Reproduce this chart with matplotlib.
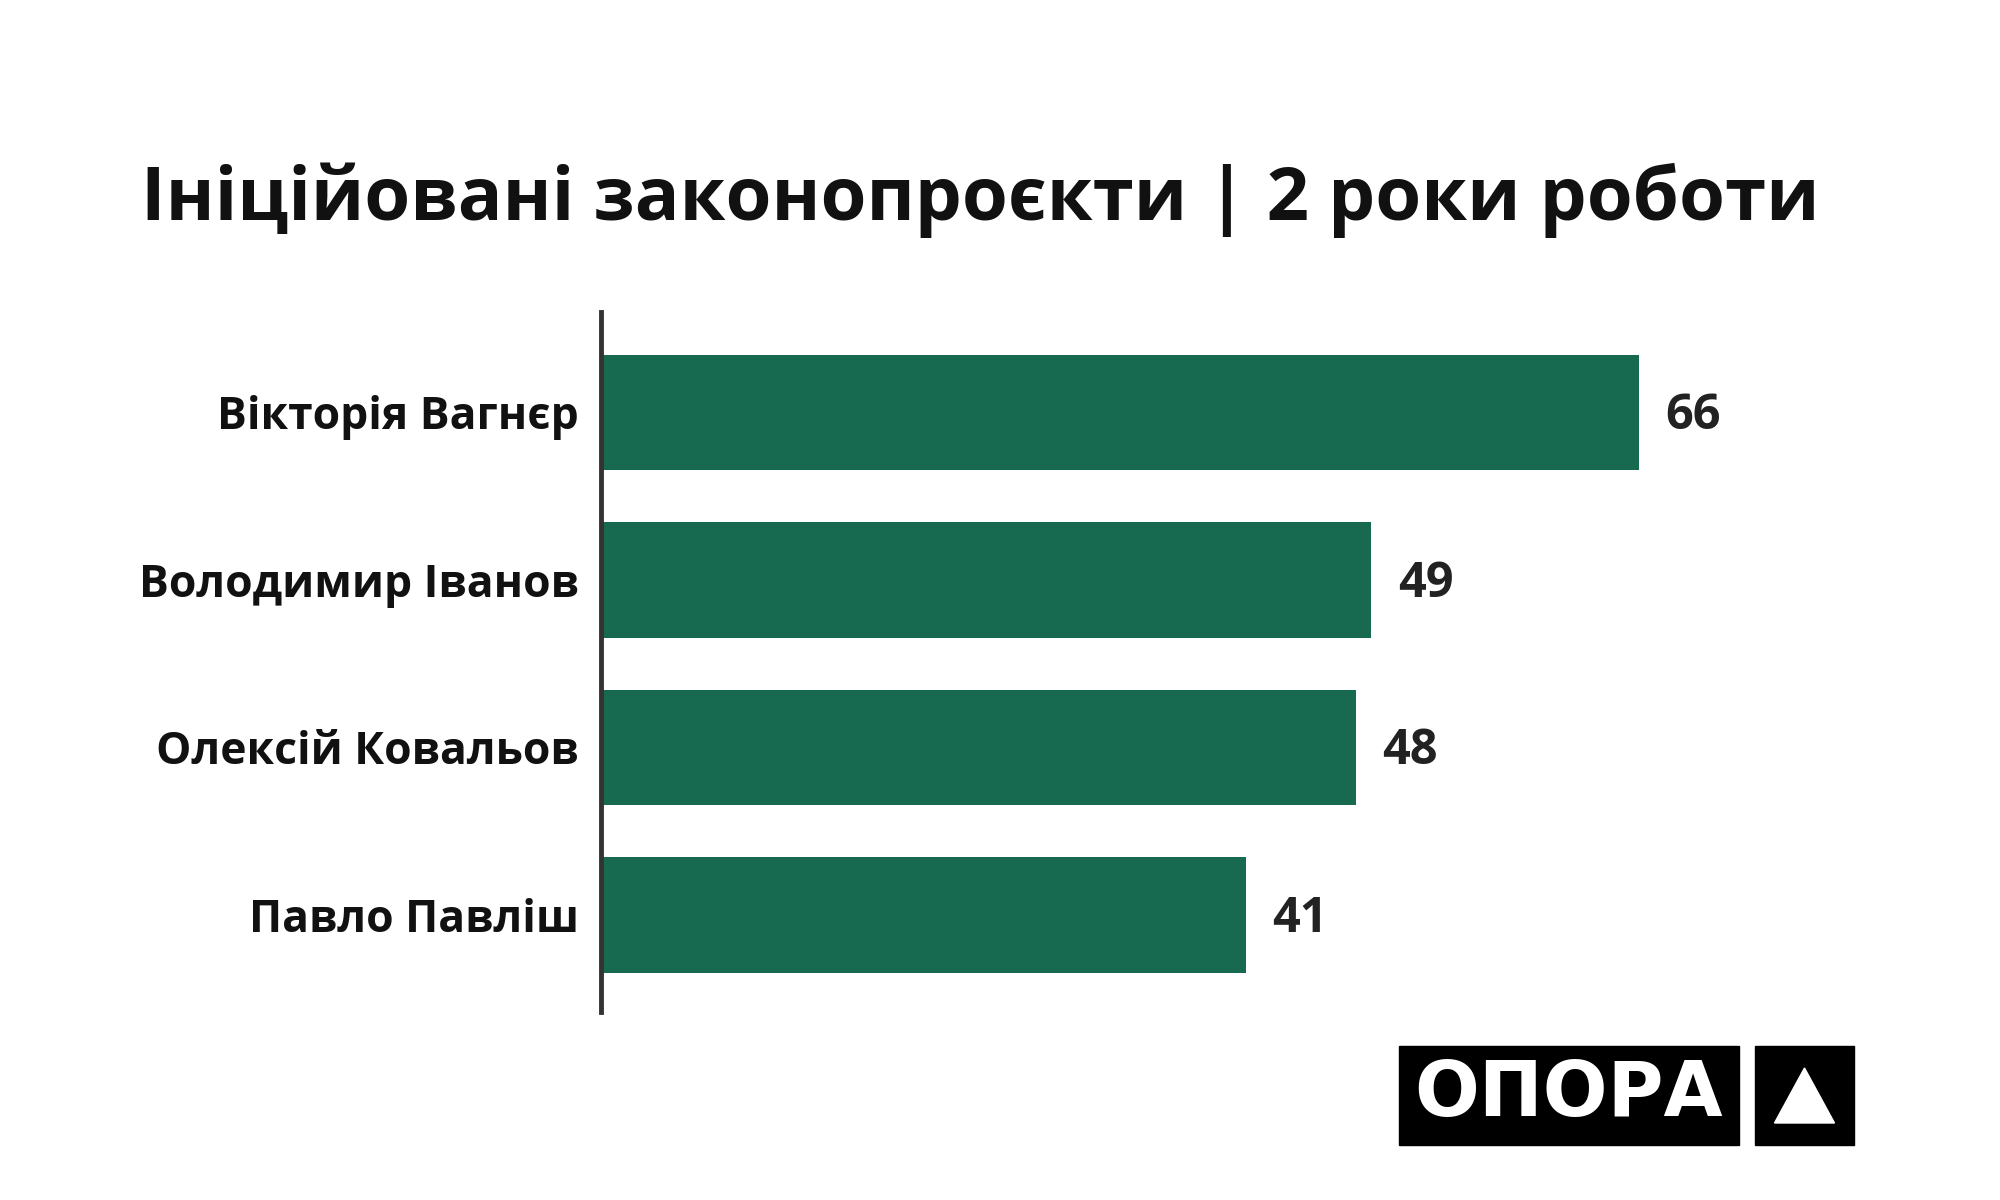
import matplotlib.pyplot as plt
from matplotlib.patches import Rectangle, Polygon

names = ['Вікторія Вагнєр', 'Володимир Іванов', 'Олексій Ковальов', 'Павло Павліш']
counts = [66, 49, 48, 41]
title = 'Ініційовані законопроєкти | 2 роки роботи'

BAR_COLOR = '#17694f'
TEXT_COLOR = '#111111'

plt.rcParams['font.family'] = ['Open Sans', 'DejaVu Sans']

fig = plt.figure(figsize=(20, 12), dpi=100)
fig.patch.set_facecolor('white')

# axes placed in pixel terms: spine at x~601, from y=312 to y=1012 (top-down)
ax = fig.add_axes([601 / 2000, (1200 - 1012) / 1200, 1264 / 2000, 700 / 1200])

ypos = list(range(len(names)))
ax.barh(ypos, counts, height=0.69, color=BAR_COLOR, zorder=2)
ax.set_xlim(0, 80.4)
ax.set_ylim(len(names) - 0.42, -0.6)

for y, v in zip(ypos, counts):
    ax.annotate(str(v), (v, y), xytext=(19, -3), textcoords='offset points',
                va='center', ha='left', fontsize=35, fontweight='bold', color='#222222')

ax.set_yticks(ypos)
ax.set_yticklabels(names, fontsize=32, fontweight='bold', color=TEXT_COLOR)
ax.tick_params(axis='y', length=0, pad=16)
ax.set_xticks([])
for side in ['top', 'right', 'bottom']:
    ax.spines[side].set_visible(False)
ax.spines['left'].set_linewidth(3.5)
ax.spines['left'].set_color('#333333')

fig.text(980 / 2000, 1 - 220 / 1200, title, ha='center', va='baseline',
         fontsize=53.5, fontweight='bold', color=TEXT_COLOR)

# logo
def px(x, y):
    return x / 2000, 1 - y / 1200

fig.patches.append(Rectangle(px(1399, 1145), 340 / 2000, 99 / 1200,
                             transform=fig.transFigure, color='black'))
fig.patches.append(Rectangle(px(1755, 1145), 99 / 2000, 99 / 1200,
                             transform=fig.transFigure, color='black'))
fig.patches.append(Polygon([px(1804.5, 1068), px(1774.5, 1123), px(1834.5, 1123)],
                           closed=True, transform=fig.transFigure, color='white'))
fig.text(1569 / 2000, 1 - 1095 / 1200, 'ОПОРА', ha='center', va='center',
         fontsize=55, fontweight='bold', color='white',
         family=['Liberation Sans Narrow', 'DejaVu Sans'])

fig.savefig('out.png', dpi=100, facecolor='white')
